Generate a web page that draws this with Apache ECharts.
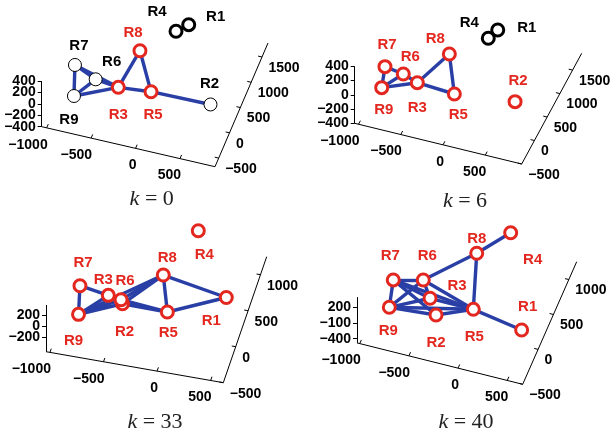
<!DOCTYPE html>
<html><head><meta charset="utf-8">
<script src="https://cdn.jsdelivr.net/npm/echarts@6/dist/echarts.min.js"></script>
<style>html,body{margin:0;padding:0;background:#fff}#c{width:616px;height:438px}</style>
</head><body><div id="c"></div>
<script>
// ---------------- DATA ----------------
const nodeNames = ['R1','R2','R3','R4','R5','R6','R7','R8','R9'];
const stepLabels = ['0', '6', '33', '40'];

// node positions (x, y, z) at each step, order R1..R9
const xK0  = [102, 675, -344, 1, 10, -611, -886, -283, -760];
const yK0  = [1366, 20, -54, 1194, 3, -4, 168, 695, -395];
const zK0  = [0, 0, 0, 0, 0, 0, 0, 0, 0];
const xK6  = [83, 670, -459, 31, -8, -655, -888, -287, -803];
const yK6  = [1375, 106, 15, 1176, -28, 114, 168, 702, -242];
const zK6  = [0, 0, 0, 0, 0, 0, 0, 0, 0];
const xK33 = [464, -431, -581, 15, -11, -456, -860, -159, -786];
const yK33 = [286, -34, 44, 1097, -39, 16, 105, 436, -273];
const zK33 = [0, 0, 0, 0, 0, 0, 0, 0, 0];
const xK40 = [529, -316, -438, 36, 3, -574, -849, -192, -775];
const yK40 = [-125, -207, -11, 1095, -14, 203, 107, 720, -259];
const zK40 = [0, 0, 0, 0, 0, 0, 0, 0, 0];

// node state: 0 = idle (white), 1 = active (red), 2 = disconnected (black)
const stateK0  = [2, 0, 1, 2, 1, 0, 0, 1, 0];
const stateK6  = [2, 1, 1, 2, 1, 1, 1, 1, 1];
const stateK33 = [1, 1, 1, 1, 1, 1, 1, 1, 1];
const stateK40 = [1, 1, 1, 1, 1, 1, 1, 1, 1];

// communication links
const edgesK0  = [['R7','R9'],['R7','R6'],['R7','R3'],['R6','R3'],['R9','R6'],['R9','R3'],['R3','R8'],['R8','R5'],['R3','R5'],['R5','R2'],['R4','R1']];
const edgesK6  = [['R7','R9'],['R7','R6'],['R6','R9'],['R9','R3'],['R6','R3'],['R3','R8'],['R8','R5'],['R3','R5'],['R4','R1']];
const edgesK33 = [['R7','R9'],['R7','R3'],['R3','R6'],['R9','R3'],['R9','R6'],['R9','R2'],['R9','R8'],['R6','R8'],['R2','R8'],['R6','R5'],['R2','R5'],['R8','R5'],['R8','R1'],['R5','R1']];
const edgesK40 = [['R4','R8'],['R8','R6'],['R8','R5'],['R7','R6'],['R7','R9'],['R7','R2'],['R7','R5'],['R7','R3'],['R6','R9'],['R6','R3'],['R6','R5'],['R9','R3'],['R9','R2'],['R9','R5'],['R2','R5'],['R3','R5'],['R5','R1']];

// axis limits and ticks
const xRangeK0 = [-1056, 894], yRangeK0 = [-670, 1777], zRangeK0 = [-400, 400];
const xRangeK6 = [-1045, 931], yRangeK6 = [-500, 1858], zRangeK6 = [-400, 400];
const xRangeK33 = [-1037, 618], yRangeK33 = [-500, 1250], zRangeK33 = [-460, 375];
const xRangeK40 = [-1028, 657], yRangeK40 = [-500, 1256], zRangeK40 = [-480, 400];
const xTicks = [-1000, -500, 0, 500];
const yTicksLong = [-500, 0, 500, 1000, 1500];
const yTicksShort = [-500, 0, 500, 1000];
const zTicksK0 = [-400, -200, 0, 200, 400];
const zTicksK33 = [-200, 0, 200];
const zTicksK40 = [-400, -100, 200];

// ---------------- LAYOUT (screen placement of each 3D box) ----------------
// A=(xmin,ymin,zmin) B=(xmax,ymin,zmin) C=(xmax,ymax,zmin) D=(xmin,ymin,zmax)
const frames = [
  {A:[41.7,126.7], B:[215,166.7], C:[268,43],    D:[41.7,81],    cap:[151.7,199]},
  {A:[354.7,123.3],B:[521.7,164], C:[581.7,53.3], D:[354.7,66.3], cap:[465,201]},
  {A:[46,351.7],   B:[223.3,382.7],C:[266.7,256.7],D:[46,305],    cap:[155,422.5]},
  {A:[357,342.9],  B:[522.7,384.3],C:[576.7,261.7],D:[357,297.1], cap:[466,422.5]}
];
const labelOffsets = [
  [[27,-8],[-1,-21],[0,28],[-19,-19],[2,23],[16,-17],[4,-19],[-7,-18],[-5,24]],
  [[29,-2],[3,-21],[0,25],[-19,-15],[4,21],[7,-17],[2,-22],[-14,-15],[2,22]],
  [[-15,23],[2,28],[-5,-15],[6,24],[1,21],[4,-19],[3,-23],[4,-17],[-5,27]],
  [[6,-23],[0,28],[27,-12],[22,27],[1,28],[4,-24],[-3,-24],[0,-14],[-1,24]]
];

const RED = '#e3271f', BLUE = '#2a3fa6', BLACK = '#000';
const steps = [
  {x:xK0, y:yK0, z:zK0, st:stateK0, e:edgesK0, xr:xRangeK0, yr:yRangeK0, zr:zRangeK0, yt:yTicksLong, zt:zTicksK0},
  {x:xK6, y:yK6, z:zK6, st:stateK6, e:edgesK6, xr:xRangeK6, yr:yRangeK6, zr:zRangeK6, yt:yTicksLong, zt:zTicksK0},
  {x:xK33, y:yK33, z:zK33, st:stateK33, e:edgesK33, xr:xRangeK33, yr:yRangeK33, zr:zRangeK33, yt:yTicksShort, zt:zTicksK33},
  {x:xK40, y:yK40, z:zK40, st:stateK40, e:edgesK40, xr:xRangeK40, yr:yRangeK40, zr:zRangeK40, yt:yTicksShort, zt:zTicksK40}
];

function fmt(v){ return v < 0 ? '\u2212' + Math.abs(v) : String(v); }
function norm(v){ const l = Math.hypot(v[0], v[1]); return [v[0]/l, v[1]/l]; }

const frameLines = [], tickLines = [], tickLabels = [], edgeLines = [], nodePts = [], graphics = [];
const tickFont = {fontFamily:'Liberation Sans, Arial, sans-serif', fontWeight:'bold', fontSize:14, color:'#000', opacity:1};

steps.forEach((s, i) => {
  const F = frames[i];
  const P = (x, y, z) => {
    const fx = (x - s.xr[0]) / (s.xr[1] - s.xr[0]);
    const fy = (y - s.yr[0]) / (s.yr[1] - s.yr[0]);
    const fz = (z - s.zr[0]) / (s.zr[1] - s.zr[0]);
    return [F.A[0] + fx*(F.B[0]-F.A[0]) + fy*(F.C[0]-F.B[0]) + fz*(F.D[0]-F.A[0]),
            F.A[1] + fx*(F.B[1]-F.A[1]) + fy*(F.C[1]-F.B[1]) + fz*(F.D[1]-F.A[1])];
  };
  const x0 = s.xr[0], x1 = s.xr[1], y0 = s.yr[0], y1 = s.yr[1], z0 = s.zr[0], z1 = s.zr[1];
  frameLines.push({coords:[P(x0,y0,z0), P(x1,y0,z0)]});
  frameLines.push({coords:[P(x1,y0,z0), P(x1,y1,z0)]});
  frameLines.push({coords:[P(x0,y0,z0), P(x0,y0,z1)]});
  const exd = norm([F.B[0]-F.A[0], F.B[1]-F.A[1]]);
  const eyd = norm([F.C[0]-F.B[0], F.C[1]-F.B[1]]);
  xTicks.forEach(v => {
    const p = P(v, y0, z0);
    tickLines.push({coords:[p, [p[0]+eyd[0]*4, p[1]+eyd[1]*4]]});
    tickLabels.push({value:p, label:Object.assign({show:true, formatter:fmt(v), position:'inside', align:'right', verticalAlign:'middle', offset:[1,17]}, tickFont)});
  });
  s.yt.forEach(v => {
    const p = P(x1, v, z0);
    tickLines.push({coords:[p, [p[0]-exd[0]*4, p[1]-exd[1]*4]]});
    tickLabels.push({value:p, label:Object.assign({show:true, formatter:fmt(v), position:'inside', align:'left', verticalAlign:'middle', offset:[6.5,11]}, tickFont)});
  });
  s.zt.forEach(v => {
    const p = P(x0, y0, v);
    tickLines.push({coords:[p, [p[0]-4, p[1]]]});
    tickLabels.push({value:p, label:Object.assign({show:true, formatter:fmt(v), position:'inside', align:'right', verticalAlign:'middle', offset:[-6,0]}, tickFont)});
  });
  const pos = nodeNames.map((n, j) => P(s.x[j], s.y[j], s.z[j]));
  s.e.forEach(([a, b]) => {
    edgeLines.push({coords:[pos[nodeNames.indexOf(a)], pos[nodeNames.indexOf(b)]]});
  });
  nodeNames.forEach((n, j) => {
    const st = s.st[j];
    const border = st === 1 ? RED : BLACK;
    nodePts.push({
      value: pos[j],
      symbolSize: st === 0 ? 13 : 12,
      itemStyle: {color:'#fff', borderColor:border, borderWidth: st === 0 ? 1 : 3, opacity:1},
      label: {show:true, formatter:n, position:'inside', offset:labelOffsets[i][j],
              color: st === 1 ? RED : BLACK, fontFamily:'Liberation Sans, Arial, sans-serif',
              fontWeight:'bold', fontSize:15, opacity:1}
    });
  });
  graphics.push({type:'text', x:F.cap[0], y:F.cap[1], silent:true,
    style:{text:'{k|k} = ' + stepLabels[i], fill:'#222', font:'22px "Liberation Serif", serif',
      fontFamily:'Liberation Serif', fontSize:22, align:'center', verticalAlign:'middle',
      textAlign:'center', textVerticalAlign:'middle',
      rich:{k:{fontStyle:'italic', fontFamily:'Liberation Serif', fontSize:22, fill:'#222'}}}});
});

const chart = echarts.init(document.getElementById('c'));
chart.setOption({
  animation:false,
  grid:{left:0, right:0, top:0, bottom:0},
  xAxis:{type:'value', min:0, max:616, show:false},
  yAxis:{type:'value', min:0, max:438, inverse:true, show:false},
  graphic: graphics,
  series:[
    {type:'lines', coordinateSystem:'cartesian2d', z:1, silent:true, data:frameLines,
     lineStyle:{color:'#000', width:1, opacity:1}},
    {type:'lines', coordinateSystem:'cartesian2d', z:1, silent:true, data:tickLines,
     lineStyle:{color:'#000', width:1, opacity:1}},
    {type:'scatter', z:2, silent:true, symbolSize:0, data:tickLabels, itemStyle:{color:'rgba(0,0,0,0)', opacity:1}},
    {type:'lines', coordinateSystem:'cartesian2d', z:3, silent:true, data:edgeLines,
     lineStyle:{color:BLUE, width:3.4, opacity:1}},
    {type:'scatter', z:4, silent:true, symbol:'circle', data:nodePts, itemStyle:{opacity:1}}
  ]
});
</script></body></html>
